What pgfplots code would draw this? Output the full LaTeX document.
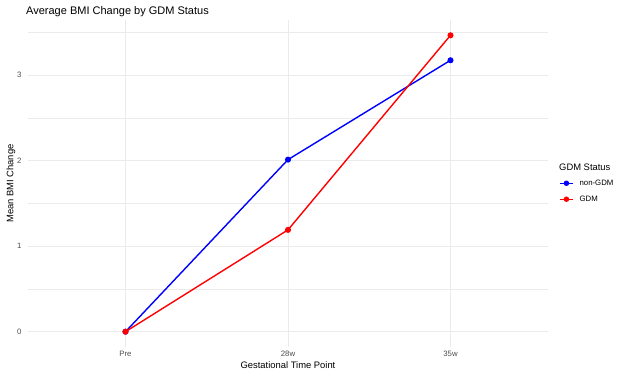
\documentclass[border=0pt]{standalone}
\usepackage{pgfplots}
\pgfplotsset{compat=1.18}
\usepackage{fontspec}
\setmainfont{Liberation Sans}
\definecolor{gridc}{HTML}{EBEBEB}
\definecolor{tickc}{HTML}{4D4D4D}
\begin{document}
\begin{tikzpicture}
\useasboundingbox (-28pt,-29.5pt) rectangle (595pt,346.5pt);
\begin{axis}[
  at={(0,0)}, anchor=south west,
  scale only axis, width=520pt, height=326pt,
  xmin=-0.6, xmax=2.6, ymin=-0.1732, ymax=3.637,
  xtick={0,1,2}, xticklabels={Pre,28w,35w},
  ytick={0,1,2,3}, minor ytick={0.5,1.5,2.5,3.5},
  axis line style={draw=none}, major tick length=0pt, minor tick length=0pt,
  xmajorgrids, ymajorgrids, yminorgrids,
  major grid style={gridc, line width=0.9pt},
  minor grid style={gridc, line width=0.5pt},
  /pgf/number format/assume math mode=true,
  tick label style={font=\fontsize{7.8}{9}\selectfont, text=tickc},
  yticklabel style={anchor=east, xshift=-3pt},
  xticklabel style={anchor=center, yshift=-7pt},
  title={Average BMI Change by GDM Status},
  title style={at={(axis description cs:0,1)}, anchor=base west, inner sep=0pt, yshift=0pt, xshift=-2pt, font=\fontsize{11}{12}\selectfont},
  xlabel={Gestational Time Point},
  xlabel style={at={(axis description cs:0.5,0)}, anchor=center, yshift=-19pt, font=\fontsize{9.4}{10}\selectfont},
  ylabel={Mean BMI Change},
  ylabel style={at={(axis description cs:-0.0327,0.5)}, anchor=center, font=\fontsize{9.4}{10}\selectfont},
  legend style={at={(axis description cs:1.0212,0.512)}, anchor=north west, draw=none, fill=none, inner sep=0pt, row sep=9pt,
    font=\fontsize{7.8}{9}\selectfont, nodes={inner sep=0pt}},
  legend cell align=left,
  /tikz/every odd column/.append style={column sep=6pt},
  legend image code/.code={\draw[mark repeat=2,mark phase=2,mark size=2pt,#1] plot coordinates {(0pt,0pt)(6.5pt,0pt)(13pt,0pt)};},
]
\addplot[blue, line width=1.4pt, mark=*, mark size=2.3pt] coordinates {(0,0) (1,2.011) (2,3.172)};
\addlegendentry{non-GDM}
\addplot[red, line width=1.4pt, mark=*, mark size=2.3pt] coordinates {(0,0) (1,1.19) (2,3.464)};
\addlegendentry{GDM}
\end{axis}
\node[anchor=west, inner sep=0pt, font=\fontsize{9.4}{10}\selectfont] at (531pt,179.5pt) {GDM Status};
\end{tikzpicture}
\end{document}
